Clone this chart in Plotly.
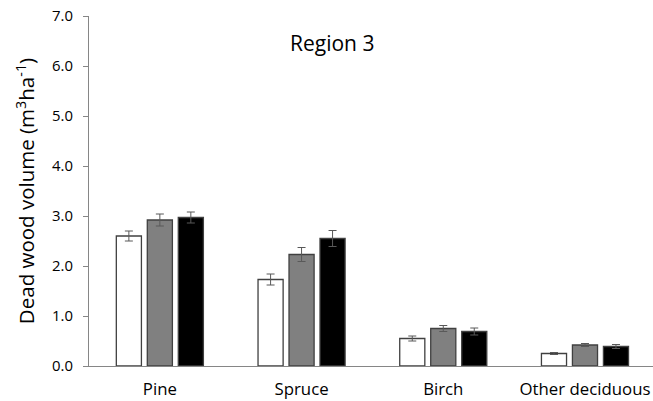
import plotly.graph_objects as go

categories = ["Pine", "Spruce", "Birch", "Other deciduous"]
series_names = ["Series 1", "Series 2", "Series 3"]
values_1 = [2.60, 1.73, 0.55, 0.25]
values_2 = [2.92, 2.23, 0.75, 0.42]
values_3 = [2.97, 2.55, 0.69, 0.39]
errors_1 = [0.10, 0.11, 0.05, 0.02]
errors_2 = [0.12, 0.14, 0.06, 0.03]
errors_3 = [0.11, 0.16, 0.07, 0.04]
y_ticks = [0, 1, 2, 3, 4, 5, 6, 7]

fills = ["#ffffff", "#808080", "#000000"]
FONT = "Open Sans"

fig = go.Figure()
for name, vals, errs, fill in zip(series_names, [values_1, values_2, values_3],
                                  [errors_1, errors_2, errors_3], fills):
    fig.add_trace(go.Bar(
        x=categories, y=vals, name=name,
        marker=dict(color=fill, line=dict(color="#404040", width=1.3)),
        error_y=dict(type="data", array=errs, visible=True,
                     color="#595959", thickness=1, width=4),
    ))

fig.update_layout(
    width=653, height=401,
    margin=dict(l=89, r=0, t=16, b=35),
    barmode="group", bargap=0.344, bargroupgap=0.19,
    plot_bgcolor="white", paper_bgcolor="white",
    showlegend=False,
    font=dict(family=FONT, color="#000000", size=15),
    xaxis=dict(range=[-0.5, 3.48], showline=True, linecolor="#868686", linewidth=1,
               ticks="outside", ticklen=8, tickcolor="rgba(0,0,0,0)",
               showgrid=False, tickfont=dict(size=16.8), automargin=False,
               ticklabeloverflow="allow", fixedrange=True),
    yaxis=dict(range=[0, 7], tickvals=y_ticks, tickformat=".1f",
               showline=True, linecolor="#868686", linewidth=1,
               ticks="outside", ticklen=5, tickcolor="#868686",
               ticklabelstandoff=7, automargin=False,
               ticklabeloverflow="allow",
               showgrid=False, zeroline=False, tickfont=dict(size=14.9),
               title=dict(text="Dead wood volume (m<sup>3</sup>ha<sup>-1</sup>)",
                          font=dict(size=20.5), standoff=11)),
    annotations=[dict(text="Region 3", xref="paper", yref="paper",
                      x=0.431, y=0.923, xanchor="center", yanchor="middle",
                      showarrow=False,
                      font=dict(size=21, family=FONT, color="#000000"))],
)

fig.write_html("out.html",
               config={"displayModeBar": False},
               post_script="document.body.style.margin='0';document.body.style.padding='0';")
